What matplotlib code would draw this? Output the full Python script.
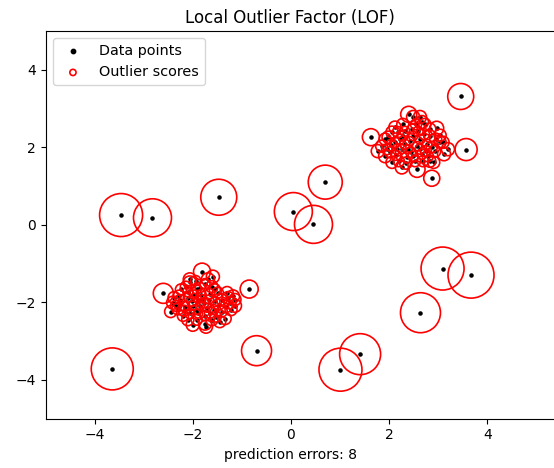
import numpy as np
import matplotlib
matplotlib.use("Agg")
import matplotlib.pyplot as plt

# inlier cluster around (-2, -2)
low_x = [-1.81, -1.59, -2.06, -1.94, -1.75, -1.61, -2.24, -2.10, -1.92, -1.49,
         -1.30, -1.18, -1.14, -2.40, -2.26, -2.10, -1.89, -1.81, -1.67, -1.55,
         -1.41, -2.30, -2.16, -2.00, -1.85, -1.71, -1.57, -1.32, -1.41, -2.45,
         -2.20, -2.06, -1.89, -1.75, -1.53, -1.34, -2.10, -1.92, -1.75, -1.73,
         -2.34, -1.24, -1.98, -1.65,
         -2.14, -1.85, -1.55, -2.28, -2.02, -1.77, -1.47, -1.22, -2.18, -1.94,
         -1.65, -1.45, -2.00, -1.61, -1.83, -1.28, -2.38, -2.06, -1.69, -1.14]
low_y = [-1.21, -1.34, -1.49, -1.44, -1.52, -1.60, -1.67, -1.73, -1.67, -1.75,
         -1.75, -1.85, -1.93, -2.01, -1.93, -1.88, -1.93, -1.91, -1.93, -1.98,
         -1.93, -2.17, -2.11, -2.09, -2.09, -2.14, -2.19, -2.11, -2.24, -2.24,
         -2.35, -2.29, -2.29, -2.35, -2.37, -2.42, -2.45, -2.45, -2.55, -2.63,
         -2.09, -2.01, -1.80, -1.78,
         -1.60, -1.62, -1.67, -1.83, -1.98, -2.01, -2.06, -2.19, -2.22, -2.19,
         -2.27, -2.50, -2.58, -2.45, -1.80, -1.88, -1.88, -1.41, -1.41, -2.09]
low_score = [0.150, 0.088, 0.088, 0.052, 0.052, 0.075, 0.063, 0.052, 0.042, 0.063,
             0.075, 0.088, 0.075, 0.088, 0.052, 0.042, 0.033, 0.033, 0.042, 0.052,
             0.063, 0.075, 0.052, 0.042, 0.042, 0.042, 0.052, 0.075, 0.063, 0.075,
             0.063, 0.052, 0.042, 0.052, 0.063, 0.075, 0.075, 0.063, 0.088, 0.088,
             0.063, 0.075, 0.042, 0.052,
             0.063, 0.052, 0.063, 0.063, 0.052, 0.052, 0.063, 0.075, 0.063, 0.052,
             0.063, 0.075, 0.088, 0.075, 0.052, 0.075, 0.075, 0.088, 0.088, 0.088]

# inlier cluster around (2, 2)
up_x = [2.40, 2.49, 2.67, 2.73, 2.28, 2.06, 2.18, 2.32, 2.47, 2.59,
        2.97, 2.83, 2.63, 2.42, 2.22, 2.12, 1.85, 1.96, 2.02, 2.26,
        2.57, 2.77, 3.04, 3.10, 2.93, 2.79, 2.67, 2.49, 2.36, 2.20,
        2.06, 2.34, 2.57, 2.91, 3.04, 2.14, 1.92, 2.38, 2.69, 2.49,
        1.77, 3.20,
        2.12, 2.55, 2.83, 1.98, 2.28, 2.71, 2.95, 2.04, 2.32, 2.63,
        2.87, 2.16, 2.44, 2.75, 1.92, 2.26, 2.83, 2.53, 3.12, 2.63]
up_y = [2.85, 2.78, 2.65, 2.59, 2.59, 2.39, 2.39, 2.41, 2.47, 2.41,
        2.49, 2.29, 2.21, 2.16, 2.21, 2.13, 2.03, 1.95, 1.87, 1.95,
        2.03, 2.08, 2.13, 2.13, 1.90, 1.77, 1.82, 1.77, 1.74, 1.64,
        1.61, 1.59, 1.43, 1.61, 2.31, 1.79, 2.21, 1.95, 1.64, 2.29,
        1.90, 1.95,
        2.52, 2.59, 2.47, 2.26, 2.29, 2.34, 2.21, 2.05, 2.08, 1.95,
        2.00, 1.95, 1.87, 1.90, 1.77, 1.48, 1.64, 1.64, 1.82, 2.78]
up_score = [0.133, 0.088, 0.088, 0.075, 0.075, 0.075, 0.063, 0.052, 0.052, 0.052,
            0.102, 0.075, 0.052, 0.042, 0.052, 0.052, 0.075, 0.063, 0.063, 0.042,
            0.042, 0.052, 0.075, 0.075, 0.075, 0.063, 0.052, 0.052, 0.063, 0.063,
            0.075, 0.075, 0.133, 0.075, 0.075, 0.052, 0.075, 0.042, 0.063, 0.042,
            0.088, 0.088,
            0.075, 0.063, 0.075, 0.075, 0.052, 0.063, 0.075, 0.063, 0.052, 0.052,
            0.063, 0.052, 0.052, 0.063, 0.088, 0.088, 0.075, 0.063, 0.088, 0.088]

# scattered points
out_x = [-3.46, -2.82, -1.47, 0.05, 0.46, 0.70, -3.64, -0.70, 1.01, 1.41,
         3.09, 3.67, 2.64, -2.60, -0.85, 1.63, 2.87, 3.46, 3.57]
out_y = [0.25, 0.18, 0.71, 0.34, 0.01, 1.10, -3.72, -3.25, -3.74, -3.34,
         -1.13, -1.30, -2.27, -1.77, -1.66, 2.26, 1.20, 3.31, 1.94]
out_score = [0.958, 0.748, 0.671, 0.748, 0.748, 0.599, 0.914, 0.466, 0.958, 0.871,
             0.958, 1.096, 0.829, 0.207, 0.168, 0.150, 0.133, 0.350, 0.251]

x = np.array(low_x + up_x + out_x)
y = np.array(low_y + up_y + out_y)
score = np.array(low_score + up_score + out_score)
n_errors = 8

fig = plt.figure(figsize=(5.54, 4.68), dpi=100)
# axes runs off the right edge of the picture like the reference
ax = fig.add_axes([45.5 / 554, 49.5 / 468, 514.5 / 554, 387.5 / 468])

ax.scatter(x, y, color='k', s=5., label='Data points')
ax.scatter(x, y, s=1000 * score, edgecolors='r', facecolors='none',
           linewidths=1.2, label='Outlier scores')

ax.set_xlim(-5, -5 + 514.5 / 49.08)
ax.set_ylim(-5, 5)
ax.set_xticks([-4, -2, 0, 2, 4])
ax.set_yticks([-4, -2, 0, 2, 4])

frac = (290 - 45.5) / 514.5
ax.set_title("Local Outlier Factor (LOF)", x=frac)
ax.set_xlabel("prediction errors: %d" % n_errors, x=frac)

legend = ax.legend(loc='upper left', fontsize=10.4)
legend.legend_handles[0].set_sizes([10])
legend.legend_handles[1].set_sizes([20])

fig.savefig("out.png", dpi=100)
